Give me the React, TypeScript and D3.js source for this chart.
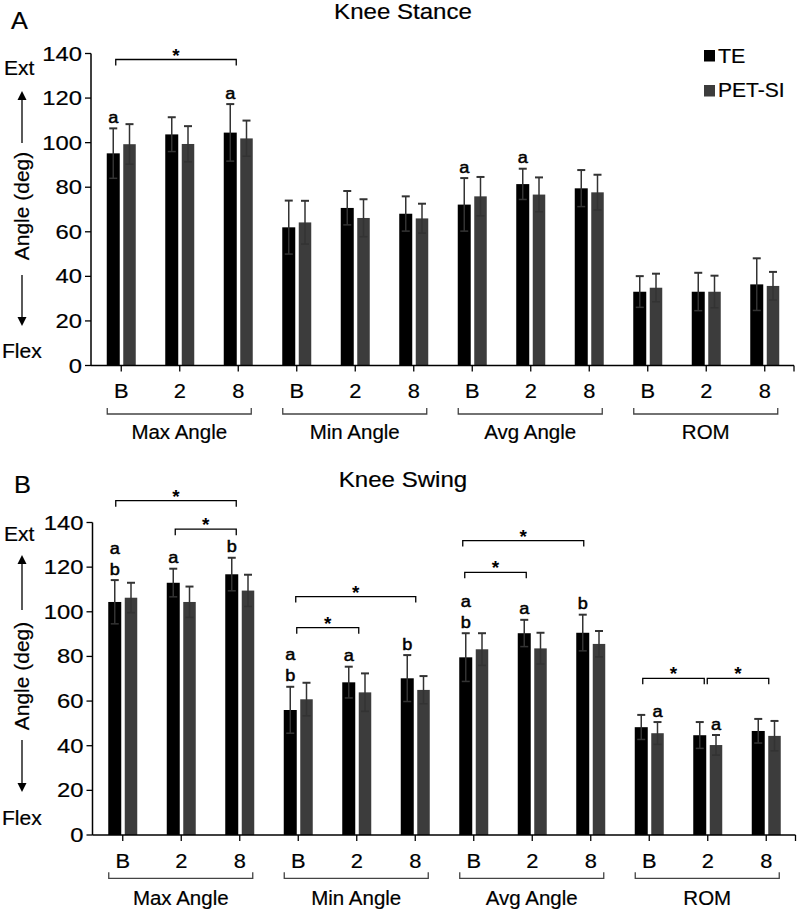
import React from "react";
import * as d3 from "d3";

const groups = ["Max Angle", "Min Angle", "Avg Angle", "ROM"];
const timepoints = ["B", "2", "8"];
const seriesNames = ["TE", "PET-SI"];
const yTicks = [0, 20, 40, 60, 80, 100, 120, 140];

// Knee Stance (mean, SD) for 12 categories (4 groups x B/2/8)
const stanceTE = [95.2, 103.7, 104.5, 62.0, 70.7, 68.1, 72.2, 81.4, 79.5, 33.1, 33.1, 36.4];
const stanceTESD = [11.2, 7.7, 12.8, 12.0, 7.6, 7.8, 11.9, 6.9, 8.2, 7.0, 8.5, 11.7];
const stancePET = [99.3, 99.4, 101.9, 64.2, 66.2, 66.0, 75.9, 76.7, 77.7, 34.9, 33.1, 35.7];
const stancePETSD = [9.0, 8.0, 8.0, 9.7, 8.4, 6.6, 8.7, 7.7, 7.9, 6.3, 7.2, 6.3];

// Knee Swing
const swingTE = [104.4, 113.0, 116.8, 56.0, 68.4, 70.2, 79.6, 90.4, 90.6, 48.3, 44.7, 46.6];
const swingTESD = [9.8, 6.3, 7.4, 10.4, 7.0, 10.4, 10.8, 6.0, 8.1, 5.5, 5.9, 5.4];
const swingPET = [106.3, 104.4, 109.5, 60.8, 63.9, 65.0, 83.2, 83.6, 85.6, 45.6, 40.3, 44.4];
const swingPETSD = [6.7, 6.9, 7.1, 7.4, 8.5, 6.2, 7.2, 7.0, 5.8, 5.0, 4.5, 6.7];

// letter annotations: category index, series (0 TE, 1 PET-SI), letters top->bottom
const stanceLetters = [
  { cat: 0, s: 0, text: ["a"] },
  { cat: 2, s: 0, text: ["a"] },
  { cat: 6, s: 0, text: ["a"] },
  { cat: 7, s: 0, text: ["a"] },
];
const swingLetters = [
  { cat: 0, s: 0, text: ["a", "b"] },
  { cat: 1, s: 0, text: ["a"] },
  { cat: 2, s: 0, text: ["b"] },
  { cat: 3, s: 0, text: ["a", "b"] },
  { cat: 4, s: 0, text: ["a"] },
  { cat: 5, s: 0, text: ["b"] },
  { cat: 6, s: 0, text: ["a", "b"] },
  { cat: 7, s: 0, text: ["a"] },
  { cat: 8, s: 0, text: ["b"] },
  { cat: 9, s: 1, text: ["a"] },
  { cat: 10, s: 1, text: ["a"] },
];

// significance brackets: from category, to category, level (deg)
const stanceBrackets = [{ from: 0, to: 2, level: 137.3 }];
const swingBrackets = [
  { from: 0, to: 2, level: 149.8 },
  { from: 1, to: 2, level: 137.0 },
  { from: 3, to: 5, level: 106.8 },
  { from: 3, to: 4, level: 92.9 },
  { from: 6, to: 8, level: 131.9 },
  { from: 6, to: 7, level: 117.7 },
  { from: 9, to: 10, level: 70.2 },
  { from: 10, to: 11, level: 70.2 },
];
// small horizontal nudges for bracket ends (px)
const stanceBracketNudge = [[-5.5, -2]];
const swingBracketNudge = [
  [-7, -3.5],
  [-6, -3.5],
  [-2.5, 0.5],
  [-1.5, 2],
  [-11, -7],
  [-9, -6],
  [-6.5, -3.5],
  [-0.5, 2.5],
];

const FONT = "'Liberation Sans', Arial, Helvetica, sans-serif";
const BLACK = "#000000";
const GRAY = "#3c3c3c";
const ERR = "#333333";

function T({ x, y, fs, sx = 1, anchor = "start", children, weight = "normal", stroke = 0 }: any) {
  return (
    <text
      transform={`translate(${x},${y}) scale(${sx},1)`}
      fontSize={fs}
      fontFamily={FONT}
      textAnchor={anchor}
      fontWeight={weight}
      fill="#000"
      stroke={stroke ? "#000" : "none"}
      strokeWidth={stroke || 0}
    >
      {children}
    </text>
  );
}

const cats = d3.range(12).map((i) => `${groups[Math.floor(i / 3)]}|${timepoints[i % 3]}`);

function Panel({ cfg, te, teSD, pet, petSD, letters, brackets, nudges, legend }: any) {
  const x = d3.scaleBand().domain(cats).range([cfg.x0, cfg.x1]).padding(0);
  const y = d3.scaleLinear().domain([0, 140]).range([cfg.y0px, cfg.y140px]);
  const c = (i: number) => (x(cats[i]) as number) + x.bandwidth() / 2;
  const axisX = cfg.x0 - 1;
  const bars: any[] = [];
  const series = [
    { vals: te, sds: teSD, color: BLACK, off: -14.5, w: 13 },
    { vals: pet, sds: petSD, color: GRAY, off: 2, w: 12.5 },
  ];
  series.forEach((s, si) => {
    s.vals.forEach((v: number, i: number) => {
      const bx = c(i) + s.off;
      bars.push(
        <rect key={`b${si}-${i}`} x={bx} y={y(v)} width={s.w} height={y(0) - y(v)} fill={s.color} />
      );
    });
  });
  const errs: any[] = [];
  series.forEach((s, si) => {
    s.vals.forEach((v: number, i: number) => {
      const cx = c(i) + s.off + s.w / 2;
      const top = y(v + s.sds[i]);
      const bot = y(v - s.sds[i]);
      errs.push(
        <g key={`e${si}-${i}`} stroke={ERR} strokeWidth={1.5}>
          <line x1={cx} x2={cx} y1={top} y2={bot} />
          <line x1={cx - 4} x2={cx + 4} y1={top} y2={top} strokeWidth={2} />
          <line x1={cx - 4} x2={cx + 4} y1={bot} y2={bot} />
        </g>
      );
    });
  });
  const letterEls: any[] = [];
  letters.forEach((l: any, k: number) => {
    const s = series[l.s];
    const v = s.vals[l.cat] + s.sds[l.cat];
    const cx = c(l.cat) + s.off + s.w / 2;
    const base = y(v) - 5.5;
    const n = l.text.length;
    l.text.forEach((t: string, j: number) => {
      letterEls.push(
        <T key={`l${k}-${j}`} x={cx} y={base - (n - 1 - j) * 21} fs={16.5} sx={1.1} anchor="middle" stroke={0.5}>
          {t}
        </T>
      );
    });
  });
  const brEls = brackets.map((b: any, k: number) => {
    const x1 = c(b.from) + nudges[k][0];
    const x2 = c(b.to) + nudges[k][1];
    const yy = y(b.level);
    return (
      <g key={`br${k}`}>
        <path d={`M${x1},${yy + 6}V${yy}H${x2}V${yy + 6}`} fill="none" stroke="#000" strokeWidth={1.3} />
        <T x={(x1 + x2) / 2} y={yy + 2} fs={19} anchor="middle" weight="bold">
          *
        </T>
      </g>
    );
  });
  const head = (xx: number, tip: number, dir: number) =>
    `M${xx},${tip}L${xx - 4.5},${tip + dir * 9}L${xx + 4.5},${tip + dir * 9}Z`;
  return (
    <g>
      <T x={cfg.titleX} y={cfg.titleBase} fs={21.5} sx={1.12} anchor="middle" stroke={0.2}>
        {cfg.title}
      </T>
      <T x={cfg.letterX} y={cfg.letterBase} fs={23} sx={1.1} stroke={0.2}>
        {cfg.letter}
      </T>
      {bars}
      {errs}
      {/* axes */}
      <line x1={axisX} x2={axisX} y1={y(140)} y2={y(0)} stroke="#000" strokeWidth={1.5} />
      <line x1={axisX} x2={cfg.x1} y1={y(0)} y2={y(0)} stroke="#000" strokeWidth={1.5} />
      {yTicks.map((t) => (
        <g key={`yt${t}`}>
          <line x1={axisX - 6} x2={axisX} y1={y(t)} y2={y(t)} stroke="#000" strokeWidth={1.3} />
          <T x={axisX - 9} y={y(t) + 7} fs={19.5} sx={1.22} anchor="end" stroke={0.2}>
            {t}
          </T>
        </g>
      ))}
      {cats.map((cat, i) => (
        <g key={`xt${i}`}>
          <line x1={c(i)} x2={c(i)} y1={y(0)} y2={y(0) + 6} stroke="#000" strokeWidth={1.3} />
          <T x={c(i)} y={cfg.catBase} fs={19.5} sx={1.12} anchor="middle" stroke={0.2}>
            {timepoints[i % 3]}
          </T>
        </g>
      ))}
      <line x1={cfg.x1} x2={cfg.x1} y1={y(0)} y2={y(0) + 6} stroke="#000" strokeWidth={1.3} />
      {groups.map((g, gi) => {
        const a = c(gi * 3) - 14;
        const b = c(gi * 3 + 2) + 13;
        return (
          <g key={`g${gi}`}>
            <path
              d={`M${a},${cfg.brY - 6}V${cfg.brY}H${b}V${cfg.brY - 6}`}
              fill="none"
              stroke="#444"
              strokeWidth={1.3}
            />
            <T x={(a + b) / 2} y={cfg.groupBase} fs={20.5} anchor="middle" stroke={0.2}>
              {g}
            </T>
          </g>
        );
      })}
      {letterEls}
      {brEls}
      {/* side labels */}
      <T x={4} y={cfg.extBase} fs={19.5} sx={1.08} stroke={0.2}>
        Ext
      </T>
      <T x={2} y={cfg.flexBase} fs={19.5} sx={1.08} stroke={0.2}>
        Flex
      </T>
      <line x1={22} x2={22} y1={cfg.upTip + 8} y2={cfg.upLineEnd} stroke="#000" strokeWidth={1.3} />
      <path d={head(22, cfg.upTip, 1)} fill="#000" />
      <line x1={22} x2={22} y1={cfg.downLineStart} y2={cfg.downTip - 8} stroke="#000" strokeWidth={1.3} />
      <path d={head(22, cfg.downTip, -1)} fill="#000" />
      <text
        transform={`translate(29,${cfg.angleCenter}) rotate(-90)`}
        fontSize={21}
        fontFamily={FONT}
        textAnchor="middle"
        stroke="#000"
        strokeWidth={0.2}
      >
        Angle (deg)
      </text>
      {legend && (
        <g>
          <rect x={704} y={50} width={11} height={11.5} fill={BLACK} />
          <T x={718} y={62.7} fs={19.5} sx={1.1} stroke={0.2}>
            {seriesNames[0]}
          </T>
          <rect x={704} y={85} width={11} height={11.5} fill={GRAY} />
          <T x={718} y={97.3} fs={19.5} sx={1.08} stroke={0.2}>
            {seriesNames[1]}
          </T>
        </g>
      )}
    </g>
  );
}

const cfgA = {
  title: "Knee Stance",
  letter: "A",
  titleX: 403,
  titleBase: 19,
  letterX: 11,
  letterBase: 28.5,
  x0: 92,
  x1: 794,
  y0px: 365.5,
  y140px: 53.5,
  catBase: 398.3,
  brY: 414,
  groupBase: 439.3,
  extBase: 75,
  flexBase: 358.3,
  upTip: 91,
  upLineEnd: 143,
  angleCenter: 206,
  downLineStart: 275,
  downTip: 326,
};
const cfgB = {
  title: "Knee Swing",
  letter: "B",
  titleX: 403,
  titleBase: 486.5,
  letterX: 14,
  letterBase: 492.5,
  x0: 93.5,
  x1: 795.5,
  y0px: 835,
  y140px: 522.5,
  catBase: 868.3,
  brY: 878.3,
  groupBase: 905,
  extBase: 540.7,
  flexBase: 825,
  upTip: 555,
  upLineEnd: 610,
  angleCenter: 676,
  downLineStart: 740,
  downTip: 792,
};

export default function App() {
  return (
    <svg
      width={797}
      height={910}
      style={{ position: "absolute", left: 0, top: 0, background: "#fff" }}
    >
      <rect x={0} y={0} width={797} height={910} fill="#fff" />
      <Panel
        cfg={cfgA}
        te={stanceTE}
        teSD={stanceTESD}
        pet={stancePET}
        petSD={stancePETSD}
        letters={stanceLetters}
        brackets={stanceBrackets}
        nudges={stanceBracketNudge}
        legend
      />
      <Panel
        cfg={cfgB}
        te={swingTE}
        teSD={swingTESD}
        pet={swingPET}
        petSD={swingPETSD}
        letters={swingLetters}
        brackets={swingBrackets}
        nudges={swingBracketNudge}
        legend={false}
      />
    </svg>
  );
}
